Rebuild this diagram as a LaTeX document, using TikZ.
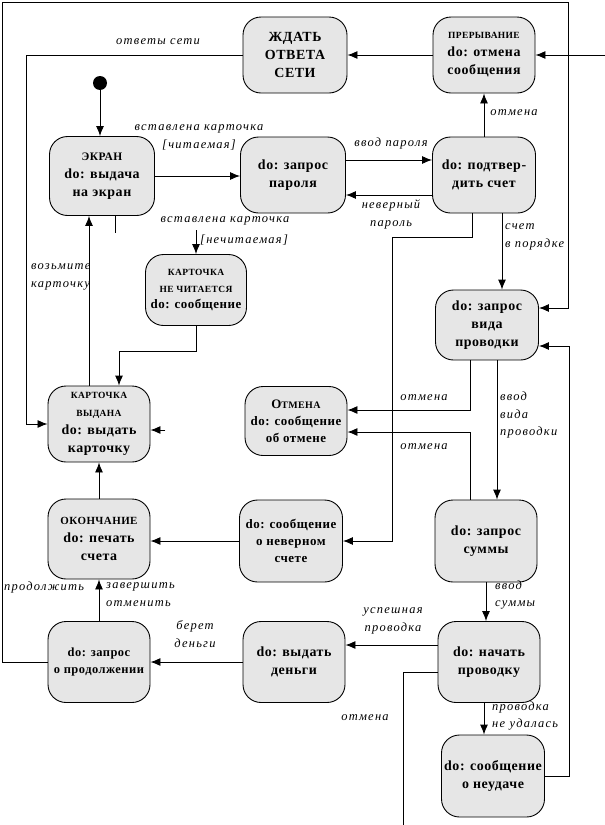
\documentclass[tikz,border=0pt]{standalone}
\usepackage{fontspec}
\setmainfont{Liberation Serif}
\newfontfamily\boxfont[LetterSpace=4]{Liberation Serif}
\newfontfamily\lblfont[LetterSpace=10]{Liberation Serif}
\usetikzlibrary{arrows.meta,positioning}
\definecolor{stateGray}{RGB}{230, 230, 230}
\newcommand{\hdr}[1]{{\fontsize{9.5}{12}\selectfont #1}}

\begin{document}
\begin{tikzpicture}[
    x=1bp, y=-1bp,
    % 狀態方塊樣式
    state/.style={
        draw=black,
        line width=0.9pt,
        fill=stateGray, % 淺灰色背景
        rounded corners=18bp,
        align=center,
        minimum width=103bp,
        minimum height=77bp,
        inner sep=2pt,
        font=\boxfont\bfseries\fontsize{14}{18}\selectfont
    },
    % 較小字的狀態方塊
    smallstate/.style={
        state,
        font=\boxfont\bfseries\fontsize{13}{17}\selectfont
    },
    % 轉移標籤樣式
    lbl/.style={
        font=\lblfont\itshape\fontsize{12.5}{18}\selectfont,
        inner sep=0pt,
        align=left
    },
    % 箭頭樣式
    trans/.style={
        -{Latex[length=10bp, width=8bp]},
        line width=0.9pt
    },
    wire/.style={line width=0.9pt}
]
    \useasboundingbox (0,0) rectangle (605,825);

    % --- 1. 上方兩列 ---
    \node[state, minimum width=104bp, minimum height=76bp] (wait) at (295,55) {ЖДАТЬ\\ОТВЕТА\\СЕТИ};
    \node[state, minimum width=102bp, minimum height=76bp] (interrupt) at (484,55) {\hdr{ПРЕРЫВАНИЕ}\\do: отмена\\сообщения};
    \node[circle, fill=black, minimum size=14bp, inner sep=0pt] (init) at (100,83) {};
    \node[state, minimum width=105bp, minimum height=79bp] (screen) at (102,176) {{\fontsize{11.5}{14}\selectfont ЭКРАН}\\do: выдача\\на экран};
    \node[state, minimum width=105bp, minimum height=76bp] (password) at (293,175) {do: запрос\\пароля};
    \node[state, minimum height=76bp] (confirm) at (484,175) {do: подтвер-\\дить счет};

    % --- 2. 中間區塊 ---
    \node[smallstate, minimum width=101bp, minimum height=71bp] (unreadable) at (196,290) {\hdr{КАРТОЧКА}\\\hdr{НЕ ЧИТАЕТСЯ}\\do: сообщение};
    \node[state, minimum height=70bp] (kind) at (487,325) {do: запрос\\вида\\проводки};
    \node[state, minimum width=102bp, minimum height=76bp] (ejected) at (99,424) {\hdr{КАРТОЧКА}\\\hdr{ВЫДАНА}\\do: выдать\\карточку};
    \node[smallstate, minimum width=102bp, minimum height=69bp] (cancel) at (296,421) {О{\fontsize{10}{16}\selectfont ТМЕНА}\\do: сообщение\\об отмене};

    % --- 3. 下方區塊 ---
    \node[state, minimum width=102bp, minimum height=80bp] (finish) at (99,539) {{\fontsize{11}{16}\selectfont ОКОНЧАНИЕ}\\do: печать\\счета};
    \node[smallstate, minimum height=82bp] (badacct) at (291,541) {do: сообщение\\о неверном\\счете};
    \node[state, minimum width=102bp, minimum height=82bp] (amount) at (486,541) {do: запрос\\суммы};
    \node[smallstate, minimum width=102bp, minimum height=81bp, font=\boxfont\bfseries\fontsize{12.5}{18}\selectfont] (askcont) at (99,662) {do: запрос\\о продолжении};
    \node[state, minimum width=102bp, minimum height=81bp] (cash) at (294,662) {do: выдать\\деньги};
    \node[state, minimum width=102bp, minimum height=81bp] (start) at (489,662) {do: начать\\проводку};
    \node[state, minimum height=82bp] (fail) at (493,776) {do: сообщение\\о неудаче};

    % 懸空端點
    \coordinate (rightin) at (605,55);
    \coordinate (stubend) at ([xshift=13bp, yshift=-17bp]screen.south);
    \coordinate (unreadin) at (196,230);
    \coordinate (orphan) at ([xshift=15bp, yshift=-6bp]ejected.east);
    \coordinate (cutoff) at (403,825);

    % --- 4. 轉移箭頭 ---
    \draw[trans] (rightin) -- (interrupt.east);
    \draw[trans] (interrupt) -- (wait);
    \draw[trans] (wait.west) -| ([xshift=-21bp]ejected.west) -- (ejected.west);
    \draw[trans] (init) -- (init |- screen.north);
    \draw[trans] (screen.east) -- (screen.east -| password.west);
    \draw[trans] ([yshift=15bp]password.east) -- ([yshift=15bp]password.east -| confirm.west);
    \draw[trans] ([yshift=-20bp]confirm.west) -- ([yshift=-20bp]confirm.west -| password.east);
    \draw[trans] (confirm) -- (interrupt);
    \draw[trans] ([xshift=18bp]confirm.south) -- ([xshift=18bp]confirm.south |- kind.north);
    \draw[trans] ([xshift=-12bp]confirm.south) |- ++(-80,24) |- (badacct.east);
    \draw[wire] ([xshift=13bp]screen.south) -- (stubend);
    \draw[trans] (unreadin) -- (unreadable.north);
    \draw[trans] (unreadable.south) -- ++(0,25) -| ([xshift=20bp]ejected.north);
    \draw[trans] ([xshift=-10bp]ejected.north) -- ([xshift=-10bp]ejected.north |- screen.south);
    \draw[trans] (orphan) -- ([yshift=-6bp]ejected.east);
    \draw[trans] (finish) -- (ejected);
    \draw[trans] (badacct.west) -- (badacct.west -| finish.east);
    \draw[trans] (askcont) -- (finish);
    \draw[trans] (askcont.west) -| (2,2) -| ([xshift=29bp, yshift=17bp]kind.east) -- ([yshift=17bp]kind.east);
    \draw[trans] (cash) -- (askcont);
    \draw[trans] ([yshift=17bp]start.west) -- ([yshift=17bp]start.west -| cash.east);
    \draw[trans] ([xshift=-5bp]start.south) -- ([xshift=-5bp]start.south |- fail.north);
    \draw[trans] (fail.east) -| ([xshift=30bp, yshift=-21bp]kind.east) -- ([yshift=-21bp]kind.east);
    \draw[wire] ([yshift=-10bp]start.west) -| (cutoff);
    \draw[trans] ([xshift=-17bp]kind.south) |- ([yshift=11bp]cancel.east);
    \draw[trans] ([xshift=10bp]kind.south) -- ([xshift=10bp]kind.south |- amount.north);
    \draw[trans] ([xshift=-16bp]amount.north) |- ([yshift=-11bp]cancel.east);
    \draw[trans] (amount.south) -- (amount.south |- start.north);

    % --- 5. 標籤 ---
    \node[lbl] (l_netans) at (158,42) {ответы сети};
    \node[lbl, align=center] (l_read) at (199,137) {вставлена карточка\\{[}читаемая{]}};
    \node[lbl] (l_pwd) at (391,144) {ввод пароля};
    \node[lbl, align=center] (l_badpwd) at (391,214) {неверный\\пароль};
    \node[lbl] (l_cancel1) at (514,113) {отмена};
    \node[lbl, anchor=west] (l_okacct) at (505,237) {счет\\в порядке};
    \node[lbl] (l_unread1) at (225,221) {вставлена карточка};
    \node[lbl, anchor=west] (l_unread2) at (200,240) {{[}нечитаемая{]}};
    \node[lbl, anchor=west] (l_takecard) at (31,277) {возьмите\\карточку};
    \node[lbl] (l_cancel2) at (424,398) {отмена};
    \node[lbl, anchor=west] (l_kind) at (500,415) {ввод\\вида\\проводки};
    \node[lbl] (l_cancel3) at (424,447) {отмена};
    \node[lbl, anchor=west] (l_go) at (4,587) {продолжить};
    \node[lbl, anchor=west] (l_stop) at (106,595) {завершить\\отменить};
    \node[lbl, anchor=west] (l_sum) at (495,595) {ввод\\суммы};
    \node[lbl, align=center] (l_ok) at (393,621) {успешная\\проводка};
    \node[lbl, align=center] (l_money) at (195,634) {берет\\деньги};
    \node[lbl, anchor=west] (l_failed) at (492,716) {проводка\\не удалась};
    \node[lbl] (l_cancel4) at (365,718) {отмена};

\end{tikzpicture}
\end{document}
